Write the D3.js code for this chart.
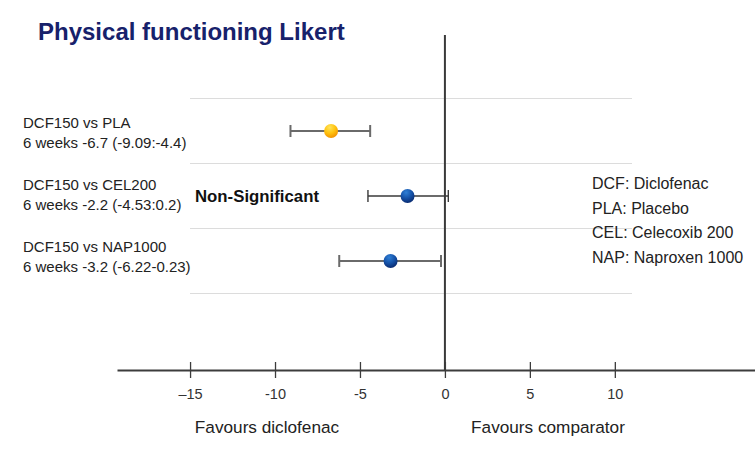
<!DOCTYPE html>
<html>
<head>
<meta charset="utf-8">
<script src="https://cdn.jsdelivr.net/npm/d3@7"></script>
<style>
  html, body { margin: 0; padding: 0; background: #fff; }
  svg { display: block; font-family: "Liberation Sans", Arial, sans-serif; }
</style>
</head>
<body>
<svg id="chart" width="755" height="472"></svg>
<script>
const title = "Physical functioning Likert";
const comparisons = ["DCF150 vs PLA", "DCF150 vs CEL200", "DCF150 vs NAP1000"];
const subLabels = ["6 weeks -6.7 (-9.09:-4.4)", "6 weeks -2.2 (-4.53:0.2)", "6 weeks -3.2 (-6.22-0.23)"];
const estimates = [-6.7, -2.2, -3.2];
const lowerCI = [-9.09, -4.53, -6.22];
const upperCI = [-4.4, 0.2, -0.23];
const significant = [true, false, true];
const tickValues = [-15, -10, -5, 0, 5, 10];
const tickLabels = ["\u201315", "-10", "-5", "0", "5", "10"];
const legendLines = ["DCF: Diclofenac", "PLA: Placebo", "CEL: Celecoxib 200", "NAP: Naproxen 1000"];
const favourLabels = ["Favours diclofenac", "Favours comparator"];

const svg = d3.select("#chart");

const defs = svg.append("defs");
const gGold = defs.append("radialGradient").attr("id", "gold").attr("cx", "40%").attr("cy", "25%").attr("r", "75%");
gGold.append("stop").attr("offset", "0%").attr("stop-color", "#ffe45a");
gGold.append("stop").attr("offset", "55%").attr("stop-color", "#ffc20e");
gGold.append("stop").attr("offset", "100%").attr("stop-color", "#f29400");
const gBlue = defs.append("radialGradient").attr("id", "blue").attr("cx", "40%").attr("cy", "25%").attr("r", "75%");
gBlue.append("stop").attr("offset", "0%").attr("stop-color", "#2f7fd6");
gBlue.append("stop").attr("offset", "55%").attr("stop-color", "#1552a8");
gBlue.append("stop").attr("offset", "100%").attr("stop-color", "#0a2c72");

const x = d3.scaleLinear().domain([-19.3, 18.25]).range([117, 755]);
const y = d3.scalePoint().domain(comparisons).range([131, 261]);
const yLabel = d3.scalePoint().domain(comparisons).range([128, 252]);
const step = y.step();
const axisY = 370;

// title
svg.append("text").attr("x", 38).attr("y", 40)
  .attr("font-size", 24).attr("font-weight", "bold").attr("fill", "#17216b")
  .text(title);

// gridlines
const gridYs = comparisons.map(c => y(c) - step / 2).concat([y(comparisons[comparisons.length - 1]) + step / 2]);
svg.append("g").selectAll("line").data(gridYs).join("line")
  .attr("x1", 190).attr("x2", 632)
  .attr("y1", d => d).attr("y2", d => d)
  .attr("stroke", "#dcdcdc").attr("stroke-width", 1.2);

// zero line
svg.append("line").attr("x1", x(0)).attr("x2", x(0)).attr("y1", 35).attr("y2", axisY)
  .attr("stroke", "#3a3a3a").attr("stroke-width", 2);

// axis
const axis = d3.axisBottom(x).tickValues(tickValues)
  .tickFormat((d, i) => tickLabels[i]).tickSize(8).tickSizeOuter(0).tickPadding(11);
const gAxis = svg.append("g").attr("transform", `translate(0,${axisY})`).call(axis);
gAxis.select(".domain").attr("stroke", "#3c3c3c").attr("stroke-width", 2);
gAxis.selectAll(".tick line").attr("y1", -8).attr("stroke", "#3c3c3c").attr("stroke-width", 1.3);
gAxis.selectAll(".tick text").attr("font-size", 14.5).attr("fill", "#333")
  .attr("font-family", "Liberation Sans, Arial, sans-serif");

// favour labels
svg.append("text").attr("x", 267).attr("y", 432.5).attr("text-anchor", "middle")
  .attr("font-size", 17.2).attr("fill", "#222").text(favourLabels[0]);
svg.append("text").attr("x", 548).attr("y", 432.5).attr("text-anchor", "middle")
  .attr("font-size", 17.2).attr("fill", "#222").text(favourLabels[1]);

// row labels
const rows = svg.append("g");
comparisons.forEach((c, i) => {
  const t = rows.append("text").attr("x", 23).attr("font-size", 15).attr("fill", "#222");
  t.append("tspan").attr("x", 23).attr("y", yLabel(c)).text(c);
  t.append("tspan").attr("x", 23).attr("y", yLabel(c) + 19.7).text(subLabels[i]);
});

// non-significant
comparisons.forEach((c, i) => {
  if (!significant[i]) {
    svg.append("text").attr("x", 195).attr("y", y(c) + 6)
      .attr("font-size", 16.8).attr("font-weight", "bold").attr("fill", "#111")
      .text("Non-Significant");
  }
});

// error bars
const eb = svg.append("g");
comparisons.forEach((c, i) => {
  const col = significant[i] ? "#6a6a6a" : "#3a3a3a";
  const sw = significant[i] ? 2 : 1.4;
  const yy = y(c);
  eb.append("line").attr("x1", x(lowerCI[i])).attr("x2", x(upperCI[i])).attr("y1", yy).attr("y2", yy)
    .attr("stroke", col).attr("stroke-width", sw);
  [lowerCI[i], upperCI[i]].forEach(v => {
    eb.append("line").attr("x1", x(v)).attr("x2", x(v)).attr("y1", yy - 6).attr("y2", yy + 6)
      .attr("stroke", col).attr("stroke-width", sw);
  });
});

// points
svg.append("g").selectAll("circle").data(comparisons).join("circle")
  .attr("cx", (d, i) => x(estimates[i])).attr("cy", d => y(d)).attr("r", 7)
  .attr("fill", (d, i) => i === 0 ? "url(#gold)" : "url(#blue)");

// legend
svg.append("g").selectAll("text").data(legendLines).join("text")
  .attr("x", 592).attr("y", (d, i) => 189 + i * 24.7)
  .attr("font-size", 16).attr("fill", "#222").text(d => d);
</script>
</body>
</html>
